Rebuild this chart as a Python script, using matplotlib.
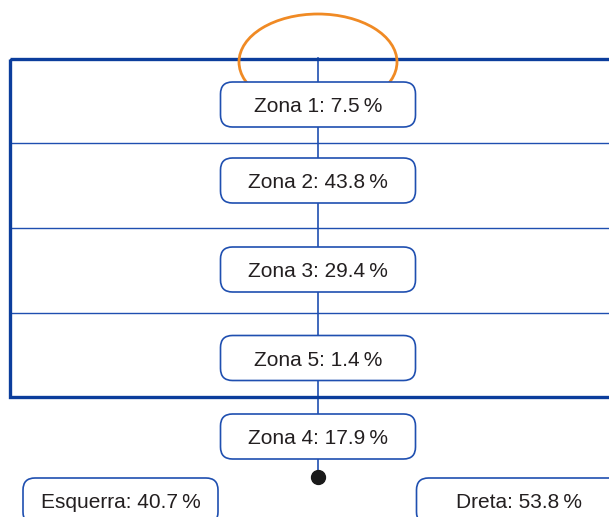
import matplotlib
matplotlib.use('Agg')
import matplotlib.pyplot as plt
from matplotlib.patches import FancyBboxPatch, Ellipse, Rectangle

# zone labels and shares (%) from top to bottom
zones = ['Zona 1', 'Zona 2', 'Zona 3', 'Zona 5', 'Zona 4']
shares = [7.5, 43.8, 29.4, 1.4, 17.9]
sides = ['Esquerra', 'Dreta']
side_shares = [40.7, 53.8]

blue = '#0b3d9c'
box_blue = '#1f4fb0'
orange = '#f08a24'

fig = plt.figure(figsize=(6.09, 5.17), dpi=100)
ax = fig.add_axes([0, 0, 1, 1])
ax.set_xlim(0, 609)
ax.set_ylim(517, 0)
ax.axis('off')

cx = 318
# outer frame, runs off the right edge
ax.add_patch(Rectangle((9.5, 58.5), 640, 338.5, fill=False, ec=blue, lw=2.4, zorder=2))
for y in [143, 228, 313]:
    ax.plot([9.5, 609], [y, y], color=box_blue, lw=1.0, zorder=1)

# central line and dot
ax.plot([cx, cx], [58, 477], color=box_blue, lw=1.2, zorder=1)
ax.plot(cx, 477, 'o', color='#1a1a1a', ms=10, zorder=3)

# orange loop behind the first box
ax.add_patch(Ellipse((cx, 62), 158, 96, fill=False, ec=orange, lw=2.0, zorder=2))

def box(xc, yc, w, h, text):
    r = 12
    ax.add_patch(FancyBboxPatch((xc - w / 2 + r, yc - h / 2 + r), w - 2 * r, h - 2 * r,
                                boxstyle=f'round,pad={r}', fc='white', ec=box_blue,
                                lw=1.2, zorder=4))
    ax.text(xc, yc + 2, text, ha='center', va='center', fontsize=15,
            family='Liberation Sans', color='#231f20', zorder=5)

ycs = [104.5, 180.5, 269.5, 358, 436.5]
for z, s, yc in zip(zones, shares, ycs):
    box(cx, yc, 195, 45, f'{z}: {s}\u2009%')

box(120.5, 501, 195, 46, f'{sides[0]}: {side_shares[0]}\u2009%')
box(519, 501, 205, 46, f'{sides[1]}: {side_shares[1]}\u2009%')

fig.savefig('out.png', dpi=100)
